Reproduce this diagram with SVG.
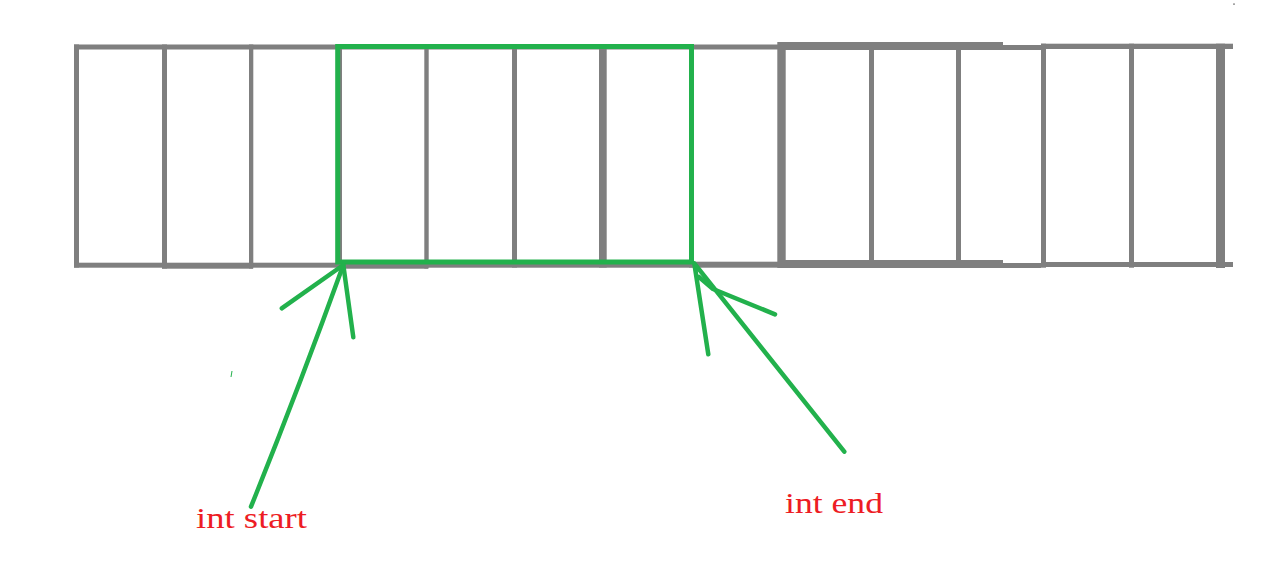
<svg xmlns="http://www.w3.org/2000/svg" width="1280" height="578" viewBox="0 0 1280 578">
  <style>
    .g { fill: #7f7f7f; }
    .sel { fill: none; stroke: #22b14c; stroke-width: 5; }
    .arrow { fill: none; stroke: #22b14c; stroke-width: 4.5; stroke-linecap: round; stroke-linejoin: round; }
    .lbl { font-family: "Liberation Serif", "Times New Roman", serif; font-size: 30px; fill: #ed1c24; }
  </style>
  <rect width="1280" height="578" fill="#ffffff"/>
  <g id="array">
    <!-- top edge -->
    <rect class="g" x="74" y="44.5" width="707" height="5"/>
    <rect class="g" x="780.7" y="42" width="222.3" height="8"/>
    <rect class="g" x="1003" y="45" width="38" height="5"/>
    <rect class="g" x="1041" y="43.7" width="192" height="5.3"/>
    <!-- bottom edge -->
    <rect class="g" x="74" y="262.7" width="88" height="5"/>
    <rect class="g" x="162" y="262.7" width="91" height="6"/>
    <rect class="g" x="253" y="262.7" width="84" height="5"/>
    <rect class="g" x="337" y="263" width="91" height="5.7"/>
    <rect class="g" x="428" y="264" width="266" height="3.7"/>
    <rect class="g" x="694" y="261.7" width="87" height="6"/>
    <rect class="g" x="780.7" y="260" width="222.3" height="8"/>
    <rect class="g" x="1003" y="263" width="38" height="5"/>
    <rect class="g" x="1041" y="262" width="192" height="5"/>
    <!-- cell dividers -->
    <rect class="g" x="74" y="44.5" width="5" height="223"/>
    <rect class="g" x="162" y="44.5" width="5" height="224"/>
    <rect class="g" x="249" y="44.5" width="4.3" height="224"/>
    <rect class="g" x="337" y="44.5" width="5" height="224"/>
    <rect class="g" x="424.3" y="44.5" width="4.4" height="224"/>
    <rect class="g" x="512" y="44.5" width="5" height="223"/>
    <rect class="g" x="599" y="44.5" width="7.7" height="223"/>
    <rect class="g" x="689" y="44.5" width="5" height="223"/>
    <rect class="g" x="777.3" y="42" width="8.4" height="226"/>
    <rect class="g" x="869" y="42" width="5" height="226"/>
    <rect class="g" x="956" y="42" width="5" height="226"/>
    <rect class="g" x="1041" y="43.7" width="5" height="224"/>
    <rect class="g" x="1129" y="43.7" width="5" height="224"/>
    <rect class="g" x="1216" y="43.7" width="9" height="224.3"/>
    <rect class="g" x="1233" y="3.5" width="2" height="1.2"/>
  </g>
  <g id="selection">
    <rect class="sel" x="337.7" y="46.5" width="353.8" height="215.5"/>
  </g>
  <g id="connectors">
    <path class="arrow" d="M251 506.7 Q 300 385 343.3 265"/>
    <path class="arrow" d="M281.7 308.3 L343.3 265 L353.3 337.3"/>
    <path class="arrow" d="M844.3 451.7 L694.3 263.3 L708.3 354.3"/>
    <path class="arrow" d="M699 277 L713 289 L775 314.3"/>
    <path d="M232 371 L231 377" stroke="#22b14c" stroke-width="1" fill="none"/>
  </g>
  <g id="label-start">
    <text class="lbl" x="196" y="527.7" textLength="111" lengthAdjust="spacingAndGlyphs">int start</text>
  </g>
  <g id="label-end">
    <text class="lbl" x="785" y="513.3" textLength="98" lengthAdjust="spacingAndGlyphs">int end</text>
  </g>
</svg>
